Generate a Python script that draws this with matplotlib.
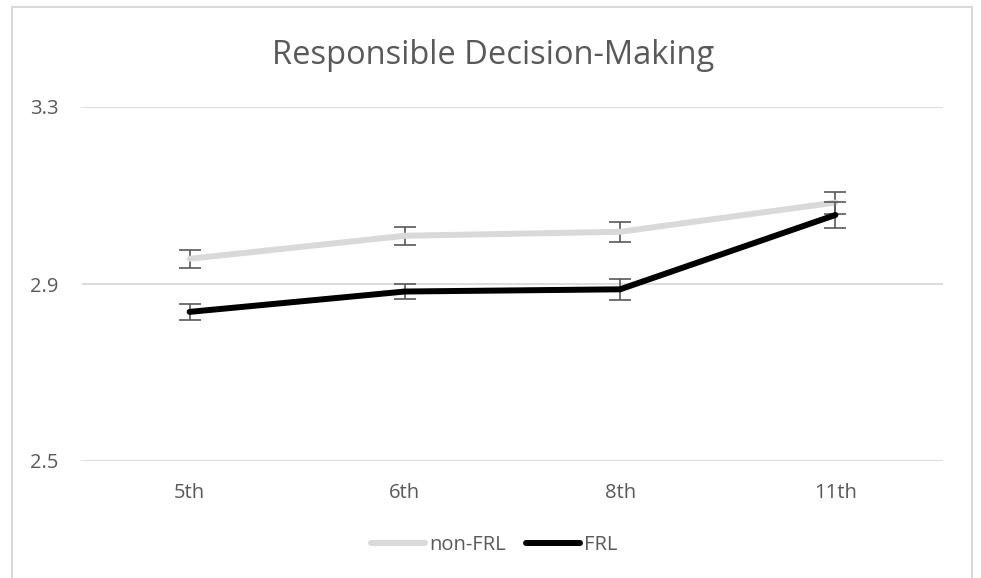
import matplotlib.pyplot as plt
from matplotlib.patches import Rectangle
from matplotlib.lines import Line2D

plt.rcParams['font.family'] = ['Open Sans', 'DejaVu Sans']

grades = ['5th', '6th', '8th', '11th']
non_frl = [2.957, 3.009, 3.018, 3.084]
non_frl_err = [0.020, 0.020, 0.023, 0.025]
frl = [2.837, 2.883, 2.888, 3.056]
frl_err = [0.018, 0.018, 0.024, 0.030]
yticks = [2.5, 2.9, 3.3]

txt = '#595959'

fig = plt.figure(figsize=(9.81, 5.78), dpi=100)
# chart border (bottom edge is cut off)
fig.patches.append(Rectangle((12/981, -0.05), 960/981, 1.05 - 7/578, transform=fig.transFigure,
                             fill=False, edgecolor='#D9D9D9', linewidth=1.5))

ax = fig.add_axes([82/981, 1 - 461/578, 861/981, (461 - 107)/578])
x = range(len(grades))

ax.errorbar(x, non_frl, yerr=non_frl_err, color='#D9D9D9', linewidth=4.3,
            ecolor='#595959', elinewidth=1.2, capsize=8, capthick=1.2, zorder=3,
            solid_capstyle='round', label='non-FRL')
ax.errorbar(x, frl, yerr=frl_err, color='black', linewidth=4.3,
            ecolor='#595959', elinewidth=1.2, capsize=8, capthick=1.2, zorder=4,
            solid_capstyle='round', label='FRL')

ax.set_xlim(-0.5, len(grades) - 0.5)
ax.set_ylim(2.5, 3.3)
ax.set_yticks(yticks)
ax.set_yticklabels([f'{v:.1f}' for v in yticks])
ax.set_xticks(list(x))
ax.set_xticklabels(grades)
ax.grid(axis='y', color='#D9D9D9', linewidth=1.3)
ax.set_axisbelow(True)
for s in ax.spines.values():
    s.set_visible(False)
ax.tick_params(length=0, colors=txt, labelsize=14.5)
ax.tick_params(axis='y', pad=17)
ax.tick_params(axis='x', pad=16)

fig.text(493/981, 1 - 56/578, 'Responsible Decision-Making', ha='center', va='center',
         fontsize=23.5, color=txt)

handles = [Line2D([], [], color='#D9D9D9', linewidth=4.3, solid_capstyle='round'),
           Line2D([], [], color='black', linewidth=4.3, solid_capstyle='round')]
fig.legend(handles, ['non-FRL', 'FRL'], loc='center', bbox_to_anchor=(494/981, 1 - 545/578),
           ncol=2, frameon=False, fontsize=14.5, labelcolor=txt, handlelength=2.7,
           handletextpad=0.2, columnspacing=1.0)

fig.savefig('out.png', dpi=100)
